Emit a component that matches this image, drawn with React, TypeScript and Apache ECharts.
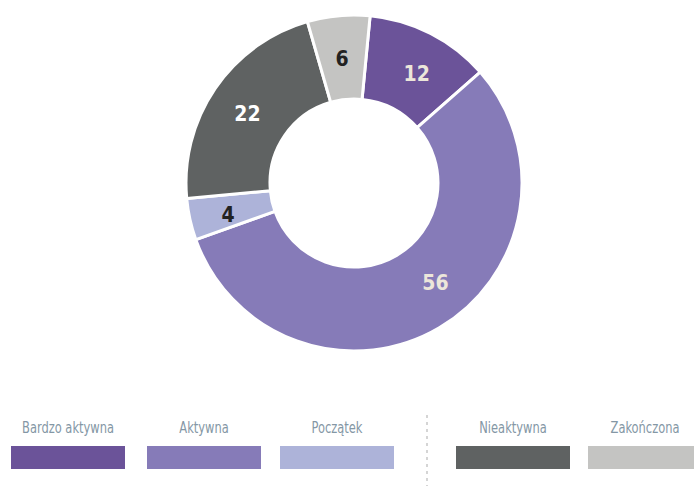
import React, { useEffect, useRef } from "react";
import * as echarts from "echarts";

const categories = ["Bardzo aktywna", "Aktywna", "Początek", "Nieaktywna", "Zakończona"];
const values = [12, 56, 4, 22, 6];
const colors = ["#6b5399", "#867bb8", "#adb3d9", "#5f6262", "#c4c4c2"];
const labelColors = ["#ece6da", "#ece6da", "#222222", "#ffffff", "#222222"];
const legendX = [11, 147, 280, 456, 588];

const FONT = "'Liberation Sans Narrow', 'DejaVu Sans Condensed', 'Roboto Condensed', sans-serif";

export default function App() {
  const ref = useRef<HTMLDivElement>(null);
  useEffect(() => {
    if (!ref.current) return;
    const chart = echarts.init(ref.current, undefined, { renderer: "svg" });
    const graphics: any[] = [];
    categories.forEach((c, i) => {
      graphics.push({
        type: "rect",
        shape: { x: legendX[i], y: 446, width: 114, height: 23 },
        style: { fill: colors[i] },
      });
      graphics.push({
        type: "text",
        x: legendX[i] + 57,
        y: 428,
        scaleX: 0.85,
        style: {
          text: c,
          fill: "#8497a5",
          font: `15px ${FONT}`,
          textAlign: "center",
          textVerticalAlign: "middle",
        },
      });
    });
    graphics.push({
      type: "line",
      shape: { x1: 427, y1: 415, x2: 427, y2: 486 },
      style: { stroke: "#c8c8c8", lineWidth: 1.5, lineDash: [3, 4] },
    });
    chart.setOption({
      animation: false,
      series: [
        {
          type: "pie",
          center: [354, 183],
          radius: [84, 168],
          startAngle: 84.5,
          clockwise: true,
          avoidLabelOverlap: false,
          itemStyle: { borderColor: "#ffffff", borderWidth: 3 },
          label: {
            show: true,
            position: "inside",
            formatter: "{c}",
            fontFamily: FONT,
            fontWeight: "bold",
            fontSize: 21,
          },
          labelLine: { show: false },
          emphasis: { disabled: true },
          data: categories.map((c, i) => ({
            name: c,
            value: values[i],
            itemStyle: { color: colors[i] },
            label: {
              color: labelColors[i],
              offset: i === 1 ? [16, -11] : i === 0 ? [4, 6] : [0, 4],
            },
          })),
        },
      ],
      graphic: graphics,
    });
    return () => chart.dispose();
  }, []);
  return <div ref={ref} style={{ width: 694, height: 486, position: "absolute", left: 0, top: 0 }} />;
}
